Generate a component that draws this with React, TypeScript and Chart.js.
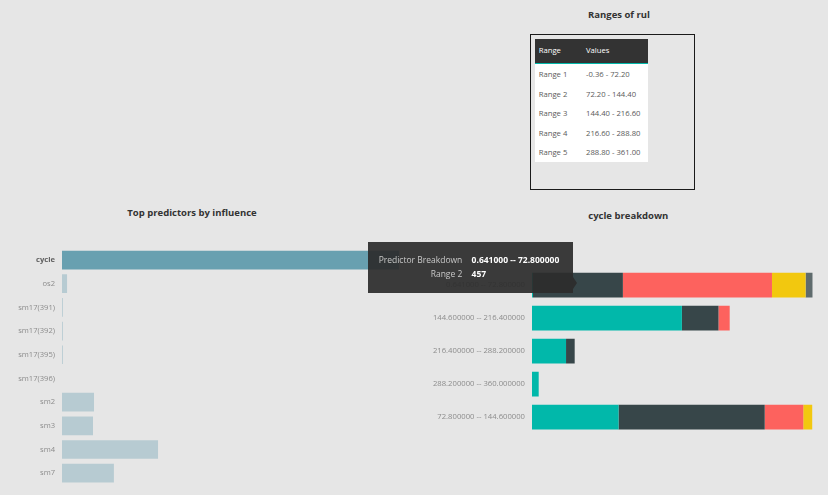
import React, { useEffect, useRef, useState } from "react";
import { Chart, registerables } from "chart.js";

Chart.register(...registerables);

const FONT = "'Segoe UI', 'Open Sans', sans-serif";

// ---- Ranges of rul (table) ----
const rulRangeNames = ["Range 1", "Range 2", "Range 3", "Range 4", "Range 5"];
const rulRangeValues = ["-0.36 - 72.20", "72.20 - 144.40", "144.40 - 216.60", "216.60 - 288.80", "288.80 - 361.00"];

// ---- Top predictors by influence ----
const predictorLabels = ["cycle", "os2", "sm17(391)", "sm17(392)", "sm17(395)", "sm17(396)", "sm2", "sm3", "sm4", "sm7"];
const predictorInfluence = [100, 1.5, 0.25, 0.25, 0.25, 0, 9.5, 9.2, 28.5, 15.4];

// ---- cycle breakdown ----
const breakdownLabels = [
  "0.641000 -- 72.800000",
  "144.600000 -- 216.400000",
  "216.400000 -- 288.200000",
  "288.200000 -- 360.000000",
  "72.800000 -- 144.600000",
];
const range1Counts = [5, 762, 173, 34, 440];
const range2Counts = [457, 186, 44, 0, 743];
const range3Counts = [758, 57, 0, 0, 196];
const range4Counts = [171, 0, 0, 0, 46];
const range5Counts = [36, 0, 0, 0, 0];
const rangeSeries = [range1Counts, range2Counts, range3Counts, range4Counts, range5Counts];
const rangeColors = ["#01B8AA", "#374649", "#FD625E", "#F2C80F", "#5F6B6D"];

// tooltip shown on the chart
const tooltipDataset = 1;
const tooltipIndex = 0;
const tooltipFieldName = "Predictor Breakdown";

const LEFT_X = 0, LEFT_Y = 232, LEFT_W = 400, LEFT_H = 267;
const RIGHT_X = 420, RIGHT_Y = 250, RIGHT_W = 408, RIGHT_H = 200;

export default function App() {
  const leftRef = useRef<HTMLCanvasElement>(null);
  const rightRef = useRef<HTMLCanvasElement>(null);
  const [tip, setTip] = useState<{ x: number; y: number } | null>(null);

  useEffect(() => {
    const left = new Chart(leftRef.current!, {
      type: "bar",
      data: {
        labels: predictorLabels,
        datasets: [
          {
            data: predictorInfluence,
            backgroundColor: predictorLabels.map((_, i) => (i === 0 ? "#68a0b0" : "#b7cbd2")),
            borderWidth: 0,
            barPercentage: 0.79,
            categoryPercentage: 1,
          },
        ],
      },
      options: {
        indexAxis: "y",
        responsive: false,
        animation: false,
        devicePixelRatio: 1,
        layout: { padding: { top: 16.2, bottom: 14, left: 0, right: 1 } },
        plugins: { legend: { display: false }, tooltip: { enabled: false }, title: { display: false } },
        scales: {
          x: { display: false, min: 0, max: Math.max(...predictorInfluence) },
          y: {
            afterFit: (s: any) => {
              s.width = 62;
            },
            grid: { display: false, drawTicks: false },
            border: { display: false },
            ticks: {
              padding: 7,
              color: (c: any) => (c.index === 0 ? "#606060" : "#8c8c8c"),
              font: (c: any) => ({ family: FONT, size: 7.6, weight: c.index === 0 ? "bold" : "normal" }),
            },
          },
        },
      },
    } as any);

    const totals = breakdownLabels.map((_, i) => rangeSeries.reduce((a, s) => a + s[i], 0));
    const right = new Chart(rightRef.current!, {
      type: "bar",
      data: {
        labels: breakdownLabels,
        datasets: rangeSeries.map((s, k) => ({
          label: rulRangeNames[k],
          data: s,
          backgroundColor: rangeColors[k],
          borderWidth: 0,
          barPercentage: 0.75,
          categoryPercentage: 1,
        })),
      },
      options: {
        indexAxis: "y",
        responsive: false,
        animation: false,
        devicePixelRatio: 1,
        layout: { padding: { top: 18.5, bottom: 16.5, left: 0, right: 15.3 } },
        plugins: { legend: { display: false }, tooltip: { enabled: false }, title: { display: false } },
        scales: {
          x: { display: false, stacked: true, min: 0, max: Math.max(...totals) },
          y: {
            stacked: true,
            afterFit: (s: any) => {
              s.width = 112;
            },
            grid: { display: false, drawTicks: false },
            border: { display: false },
            ticks: { padding: 7, color: "#8c8c8c", font: { family: FONT, size: 7.7 } },
          },
        },
      },
    } as any);

    const el: any = right.getDatasetMeta(tooltipDataset).data[tooltipIndex];
    if (el) setTip({ x: RIGHT_X + (el.x + el.base) / 2, y: RIGHT_Y + el.y });

    return () => {
      left.destroy();
      right.destroy();
    };
  }, []);

  const titleStyle = (cx: number, cy: number): React.CSSProperties => ({
    position: "absolute",
    left: cx - 100,
    width: 200,
    top: cy - 7,
    height: 14,
    lineHeight: "14px",
    textAlign: "center",
    fontFamily: FONT,
    fontWeight: "bold",
    fontSize: 9.5,
    color: "#333",
    whiteSpace: "nowrap",
  });

  const tipBg = "rgba(44,44,44,0.93)";
  const boxW = 205.5, boxH = 50.5;

  return (
    <div
      style={{
        position: "absolute",
        left: 0,
        top: 0,
        width: 828,
        height: 495,
        overflow: "hidden",
        background: "#e6e6e6",
        fontFamily: FONT,
      }}
    >
      {/* Ranges of rul */}
      <div style={titleStyle(619, 15)}>Ranges of rul</div>
      <div
        style={{
          position: "absolute",
          left: 530,
          top: 34,
          width: 165,
          height: 156,
          boxSizing: "border-box",
          border: "1px solid #1a1a1a",
        }}
      />
      <div style={{ position: "absolute", left: 535, top: 39, width: 113 }}>
        <div
          style={{
            position: "relative",
            height: 24,
            background: "#333333",
            borderBottom: "1.5px solid #01B8AA",
            color: "#ffffff",
            fontSize: 7.7,
          }}
        >
          <span style={{ position: "absolute", left: 3.7, top: 4, lineHeight: "14px" }}>Range</span>
          <span style={{ position: "absolute", left: 51, top: 4, lineHeight: "14px" }}>Values</span>
        </div>
        <div style={{ background: "#ffffff", paddingTop: 0.5 }}>
          {rulRangeNames.map((n, i) => (
            <div key={n} style={{ position: "relative", height: 19.5, fontSize: 7.7, color: "#5a5a5a" }}>
              <span style={{ position: "absolute", left: 3.7, top: 2.6, lineHeight: "14px" }}>{n}</span>
              <span style={{ position: "absolute", left: 51, top: 2.6, lineHeight: "14px" }}>{rulRangeValues[i]}</span>
            </div>
          ))}
        </div>
      </div>

      {/* Top predictors by influence */}
      <div style={titleStyle(192, 213.3)}>Top predictors by influence</div>
      <canvas
        ref={leftRef}
        width={LEFT_W}
        height={LEFT_H}
        style={{ position: "absolute", left: LEFT_X, top: LEFT_Y, width: LEFT_W, height: LEFT_H }}
      />

      {/* cycle breakdown */}
      <div style={titleStyle(628.3, 215.7)}>cycle breakdown</div>
      <canvas
        ref={rightRef}
        width={RIGHT_W}
        height={RIGHT_H}
        style={{ position: "absolute", left: RIGHT_X, top: RIGHT_Y, width: RIGHT_W, height: RIGHT_H }}
      />

      {/* tooltip */}
      {tip && (
        <>
          <div
            style={{
              position: "absolute",
              left: tip.x - 4.5 - boxW,
              top: tip.y - 43,
              width: boxW,
              height: boxH,
              background: tipBg,
              zIndex: 5,
              fontSize: 8.5,
            }}
          >
            <div
              style={{
                position: "absolute",
                left: 0,
                width: 94.4,
                top: 11.3,
                lineHeight: "14px",
                textAlign: "right",
                color: "#c8c8c8",
                whiteSpace: "nowrap",
              }}
            >
              {tooltipFieldName}
            </div>
            <div
              style={{
                position: "absolute",
                left: 103.7,
                top: 11.3,
                lineHeight: "14px",
                color: "#ffffff",
                fontWeight: "bold",
                whiteSpace: "nowrap",
              }}
            >
              {breakdownLabels[tooltipIndex]}
            </div>
            <div
              style={{
                position: "absolute",
                left: 0,
                width: 94.4,
                top: 25.3,
                lineHeight: "14px",
                textAlign: "right",
                color: "#c8c8c8",
                whiteSpace: "nowrap",
              }}
            >
              {rulRangeNames[tooltipDataset]}
            </div>
            <div
              style={{
                position: "absolute",
                left: 103.7,
                top: 25.3,
                lineHeight: "14px",
                color: "#ffffff",
                fontWeight: "bold",
                whiteSpace: "nowrap",
              }}
            >
              {String(rangeSeries[tooltipDataset][tooltipIndex])}
            </div>
          </div>
          <div
            style={{
              position: "absolute",
              left: tip.x - 4.5,
              top: tip.y - 2.5 - 6,
              width: 0,
              height: 0,
              borderTop: "6px solid transparent",
              borderBottom: "6px solid transparent",
              borderLeft: `4.5px solid ${tipBg}`,
              zIndex: 5,
            }}
          />
        </>
      )}
    </div>
  );
}
